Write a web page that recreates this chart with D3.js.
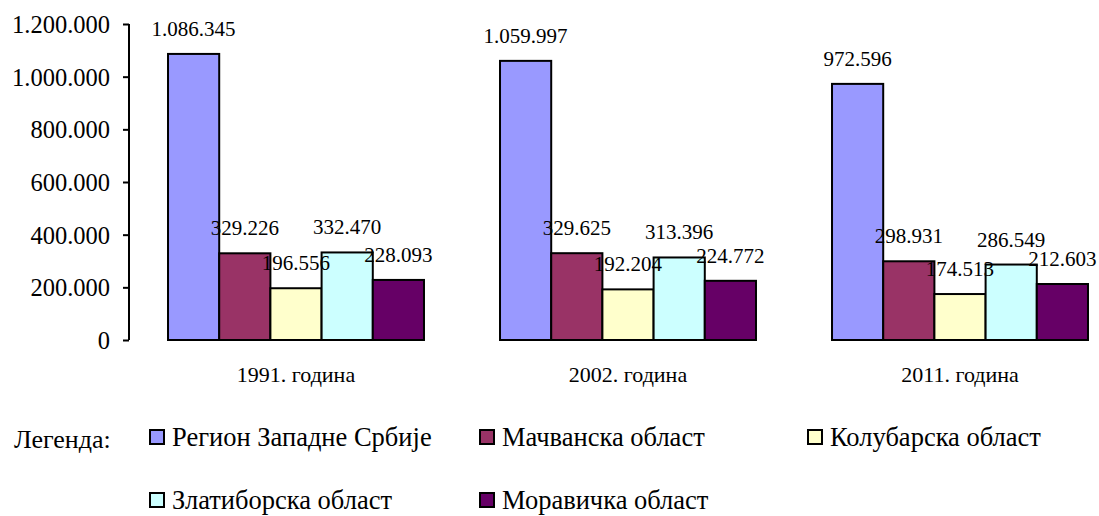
<!DOCTYPE html>
<html><head><meta charset="utf-8">
<script src="https://cdn.jsdelivr.net/npm/d3@7"></script>
<style>
body{margin:0;background:#fff;}
svg{display:block;}
svg text{font-family:"Liberation Serif","Times New Roman",serif !important;fill:#000;}
</style></head>
<body><svg id="c" width="1099" height="516"></svg>
<script>
const categories = ["1991. година", "2002. година", "2011. година"];
const seriesNames = ["Регион Западне Србије", "Мачванска област", "Колубарска област", "Златиборска област", "Моравичка област"];
const seriesColors = ["#9999FF", "#993366", "#FFFFCC", "#CCFFFF", "#660066"];
const region = [1086345, 1059997, 972596];
const macvanska = [329226, 329625, 298931];
const kolubarska = [196556, 192204, 174513];
const zlatiborska = [332470, 313396, 286549];
const moravicka = [228093, 224772, 212603];
const yTicks = [0, 200000, 400000, 600000, 800000, 1000000, 1200000];
const legendTitle = "Легенда:";

const seriesValues = [region, macvanska, kolubarska, zlatiborska, moravicka];
const fmt = v => d3.format(",")(v).replace(/,/g, ".");

const svg = d3.select("#c");
const y = d3.scaleLinear().domain([0, 1200000]).range([340, 24]);
const x0 = d3.scaleBand().domain(categories).range([130, 1126]).paddingInner(0.229).paddingOuter(0.1145);
const x1 = d3.scaleBand().domain(d3.range(seriesNames.length)).range([0, x0.bandwidth()]);

// y axis
const yAxis = d3.axisLeft(y).tickValues(yTicks).tickSize(6).tickPadding(13).tickFormat(fmt);
const ga = svg.append("g").attr("transform", "translate(129,0)").call(yAxis);
ga.select(".domain").attr("stroke", "#000").attr("stroke-width", 2).attr("d", "M0," + y(1200000) + "V" + y(0));
ga.selectAll(".tick line").attr("stroke", "#000").attr("stroke-width", 2);
ga.selectAll(".tick text").attr("font-size", 24.5).attr("dy", "0.34em");

// bars
const groups = svg.append("g").selectAll("g").data(categories).join("g")
  .attr("transform", d => "translate(" + x0(d) + ",0)");
groups.each(function(cat, ci) {
  const g = d3.select(this);
  seriesValues.forEach((vals, si) => {
    const v = vals[ci];
    g.append("rect")
      .attr("x", x1(si)).attr("y", y(v))
      .attr("width", x1.bandwidth()).attr("height", y(0) - y(v))
      .attr("fill", seriesColors[si]).attr("stroke", "#000").attr("stroke-width", 2);
  });
  seriesValues.forEach((vals, si) => {
    const v = vals[ci];
    g.append("text")
      .attr("x", x1(si) + x1.bandwidth() / 2).attr("y", y(v) - 18)
      .attr("text-anchor", "middle").attr("font-size", 21)
      .text(fmt(v));
  });
  g.append("text").attr("x", x0.bandwidth() / 2).attr("y", 382)
    .attr("text-anchor", "middle").attr("font-size", 22).text(cat);
});

// legend
svg.append("text").attr("x", 14).attr("y", 448).attr("font-size", 26).text(legendTitle);
const legPos = [[150, 437], [480, 437], [808, 437], [150, 500], [480, 500]];
seriesNames.forEach((n, i) => {
  const [lx, ly] = legPos[i];
  svg.append("rect").attr("x", lx).attr("y", ly - 7).attr("width", 14).attr("height", 14)
    .attr("fill", seriesColors[i]).attr("stroke", "#000").attr("stroke-width", 2);
  svg.append("text").attr("x", lx + 22).attr("y", ly + 9).attr("font-size", 26.5).text(n);
});
</script></body></html>
